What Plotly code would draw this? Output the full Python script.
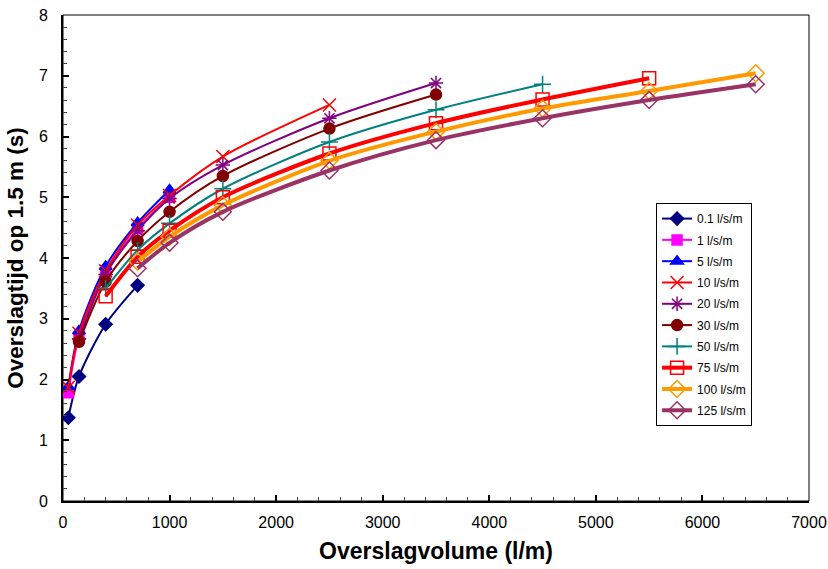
import plotly.graph_objects as go

# Overtopping time at 1.5 m (s) per overtopping discharge, versus overtopping volume (l/m)
names = ["0.1 l/s/m", "1 l/s/m", "5 l/s/m", "10 l/s/m", "20 l/s/m",
         "30 l/s/m", "50 l/s/m", "75 l/s/m", "100 l/s/m", "125 l/s/m"]

x_q01 = [50, 150, 400, 700]
y_q01 = [1.37, 2.05, 2.91, 3.55]

x_q1 = [50, 150, 400, 700, 1000]
y_q1 = [1.78, 2.70, 3.75, 4.48, 5.00]

x_q5 = [50, 150, 400, 700, 1000]
y_q5 = [1.88, 2.80, 3.86, 4.58, 5.12]

x_q10 = [50, 150, 400, 700, 1000, 1500, 2500]
y_q10 = [1.87, 2.76, 3.79, 4.54, 5.03, 5.67, 6.52]

x_q20 = [150, 400, 700, 1000, 1500, 2500, 3500]
y_q20 = [2.67, 3.73, 4.45, 4.98, 5.53, 6.30, 6.88]

x_q30 = [150, 400, 700, 1000, 1500, 2500, 3500]
y_q30 = [2.62, 3.61, 4.28, 4.76, 5.35, 6.13, 6.69]

x_q50 = [400, 700, 1000, 1500, 2500, 3500, 4500]
y_q50 = [3.50, 4.13, 4.57, 5.14, 5.91, 6.44, 6.86]

x_q75 = [400, 700, 1000, 1500, 2500, 3500, 4500, 5500]
y_q75 = [3.37, 4.02, 4.45, 5.00, 5.72, 6.22, 6.61, 6.96]

x_q100 = [700, 1000, 1500, 2500, 3500, 4500, 5500, 6500]
y_q100 = [3.94, 4.35, 4.87, 5.60, 6.08, 6.46, 6.75, 7.04]

x_q125 = [700, 1000, 1500, 2500, 3500, 4500, 5500, 6500]
y_q125 = [3.83, 4.25, 4.76, 5.44, 5.94, 6.30, 6.60, 6.86]

xs = [x_q01, x_q1, x_q5, x_q10, x_q20, x_q30, x_q50, x_q75, x_q100, x_q125]
ys = [y_q01, y_q1, y_q5, y_q10, y_q20, y_q30, y_q50, y_q75, y_q100, y_q125]

colors = ["#000080", "#FF00FF", "#0000FF", "#FF0000", "#800080",
          "#800000", "#008080", "#FF0000", "#FF9900", "#993366"]
symbols = ["diamond", "square", "triangle-up", "x-thin-open", "asterisk-open",
           "circle", "cross-thin-open", "square-open", "diamond-open", "diamond-open"]
msizes = [10, 10, 11, 13, 12, 11, 12, 13, 13, 13]
lwidths = [2, 2, 2, 2, 2, 2, 2, 4, 4, 4]

fig = go.Figure()
for name, xv, yv, c, s, ms, lw in zip(names, xs, ys, colors, symbols, msizes, lwidths):
    fig.add_trace(go.Scatter(
        x=xv, y=yv, name=name, legendgroup=name, mode="lines+markers",
        line=dict(color=c, width=lw, shape="spline", smoothing=0.8),
        marker=dict(symbol=s, size=ms, color=c, line=dict(color=c, width=1.5)),
    ))

font_family = "Liberation Sans, Arial, sans-serif"

fig.update_layout(
    width=828, height=569,
    margin=dict(l=63, r=19, t=15, b=68, autoexpand=False),
    paper_bgcolor="white", plot_bgcolor="white",
    font=dict(family=font_family, color="black"),
    showlegend=True,
    legend=dict(
        x=0.795, y=0.613, xanchor="left", yanchor="top",
        bordercolor="black", borderwidth=1, bgcolor="white",
        font=dict(size=12, family=font_family),
        traceorder="grouped", tracegroupgap=2.3, itemwidth=30,
    ),
    xaxis=dict(
        range=[0, 7000], dtick=1000, showgrid=False, zeroline=False,
        showline=True, linecolor="black", linewidth=2, automargin=False,
        ticks="inside", ticklen=6, tickwidth=1.5, tickcolor="black",
        minor=dict(dtick=200, ticks="inside", ticklen=4, tickwidth=1, tickcolor="#444"),
        tickfont=dict(size=16), ticklabelstandoff=6,
        title=dict(text="<b>Overslagvolume (l/m)</b>", font=dict(size=23), standoff=13),
    ),
    yaxis=dict(
        range=[0, 8], dtick=1, showgrid=False, zeroline=False,
        showline=True, linecolor="black", linewidth=2, automargin=False,
        ticks="inside", ticklen=6, tickwidth=1.5, tickcolor="black",
        minor=dict(dtick=0.2, ticks="inside", ticklen=4, tickwidth=1, tickcolor="#444"),
        tickfont=dict(size=16), ticklabelstandoff=10,
        title=dict(text="<b>Overslagtijd op 1.5 m (s)</b>", font=dict(size=22.5), standoff=9),
    ),
    shapes=[dict(type="rect", xref="paper", yref="paper", x0=0, y0=0, x1=1, y1=1,
                 line=dict(color="black", width=1), fillcolor="rgba(0,0,0,0)", layer="below")],
)

fig.write_html("out.html")
